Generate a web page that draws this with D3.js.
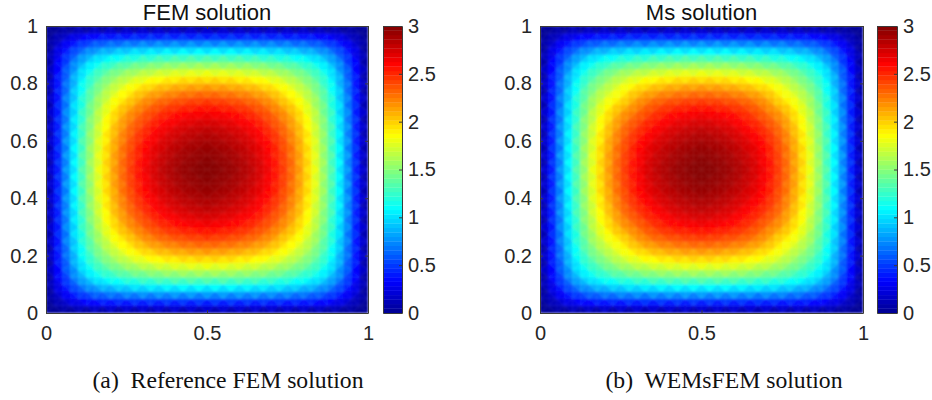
<!DOCTYPE html>
<html>
<head>
<meta charset="utf-8">
<script src="https://cdn.jsdelivr.net/npm/d3@7"></script>
<style>
body { margin: 0; background: #fff; }
svg { display: block; }
.tick text { font-family: "Liberation Sans", sans-serif; font-size: 20px; fill: #262626; }
.title { font-family: "Liberation Sans", sans-serif; font-size: 22px; fill: #111; text-anchor: middle; }
.caption { font-family: "Liberation Serif", serif; font-size: 23.7px; fill: #111; text-anchor: middle; white-space: pre; }
</style>
</head>
<body>
<svg id="vis" width="932" height="400"></svg>
<script>
var X_TICKS = [0, 0.5, 1];
var Y_TICKS = [0, 0.2, 0.4, 0.6, 0.8, 1];
var BAR_TICKS = [0, 0.5, 1, 1.5, 2, 2.5, 3];
var TITLES = ["FEM solution", "Ms solution"];
var CAPTIONS = ["(a)  Reference FEM solution", "(b)  WEMsFEM solution"];

// mesh node values, one quadrant (the field looks symmetric).
// row i holds nodes j = i..20 on a 40x40 mesh, so the first entry is the diagonal
var femField = [
	[0,0,0,0,0,0,0,0,0,0,0,0,0,0,0,0,0,0,0,0,0],
	[.06,.11,.16,.20,.23,.25,.27,.28,.28,.29,.29,.30,.30,.30,.30,.30,.30,.30,.30,.30],
	[.20,.29,.37,.43,.47,.51,.53,.54,.56,.57,.58,.58,.59,.60,.60,.60,.60,.60,.60],
	[.42,.53,.63,.69,.74,.77,.80,.83,.85,.86,.87,.88,.89,.89,.90,.90,.90,.90],
	[.68,.80,.89,.95,1.00,1.04,1.07,1.10,1.12,1.13,1.15,1.16,1.17,1.18,1.18,1.18,1.18],
	[.94,1.05,1.13,1.19,1.24,1.29,1.32,1.35,1.37,1.40,1.41,1.42,1.43,1.44,1.44,1.44],
	[1.17,1.27,1.35,1.41,1.47,1.51,1.55,1.58,1.61,1.63,1.64,1.66,1.66,1.67,1.67],
	[1.39,1.48,1.56,1.62,1.68,1.73,1.76,1.80,1.82,1.84,1.86,1.87,1.88,1.88],
	[1.58,1.68,1.75,1.82,1.88,1.92,1.97,2.00,2.02,2.04,2.06,2.06,2.07],
	[1.78,1.87,1.94,2.01,2.06,2.11,2.14,2.17,2.19,2.21,2.22,2.23],
	[1.93,2.04,2.13,2.19,2.24,2.28,2.31,2.34,2.36,2.37,2.38],
	[2.13,2.22,2.29,2.35,2.39,2.43,2.45,2.47,2.49,2.50],
	[2.31,2.38,2.44,2.49,2.53,2.56,2.58,2.60,2.61],
	[2.45,2.52,2.57,2.61,2.64,2.67,2.69,2.70],
	[2.59,2.64,2.68,2.72,2.74,2.76,2.78],
	[2.69,2.74,2.77,2.80,2.82,2.84],
	[2.78,2.82,2.85,2.87,2.89],
	[2.86,2.89,2.91,2.93],
	[2.92,2.94,2.96],
	[2.96,2.98],
	[3.00]
];

var msField = [
	[0,0,0,0,0,0,0,0,0,0,0,0,0,0,0,0,0,0,0,0,0],
	[.06,.11,.16,.20,.23,.25,.27,.28,.28,.29,.29,.30,.30,.30,.30,.30,.30,.30,.30,.30],
	[.20,.29,.37,.43,.47,.51,.53,.54,.56,.57,.58,.58,.59,.60,.60,.60,.60,.60,.60],
	[.42,.53,.63,.69,.74,.77,.80,.83,.85,.86,.87,.88,.89,.89,.90,.90,.90,.90],
	[.68,.80,.89,.95,1.00,1.04,1.07,1.10,1.12,1.13,1.15,1.16,1.17,1.18,1.18,1.18,1.18],
	[.94,1.05,1.13,1.19,1.24,1.29,1.32,1.35,1.37,1.40,1.41,1.42,1.43,1.44,1.44,1.44],
	[1.16,1.26,1.34,1.41,1.47,1.51,1.55,1.58,1.61,1.63,1.64,1.66,1.66,1.67,1.67],
	[1.37,1.47,1.55,1.62,1.68,1.73,1.76,1.80,1.82,1.84,1.86,1.87,1.88,1.88],
	[1.55,1.66,1.74,1.81,1.87,1.92,1.96,2.00,2.02,2.04,2.06,2.06,2.07],
	[1.75,1.85,1.93,2.00,2.05,2.10,2.14,2.17,2.19,2.21,2.22,2.23],
	[1.90,2.02,2.12,2.18,2.24,2.28,2.31,2.34,2.36,2.37,2.38],
	[2.10,2.20,2.28,2.34,2.39,2.43,2.45,2.47,2.49,2.50],
	[2.28,2.36,2.43,2.48,2.53,2.56,2.58,2.60,2.61],
	[2.43,2.51,2.56,2.61,2.64,2.67,2.69,2.70],
	[2.57,2.63,2.68,2.72,2.74,2.76,2.78],
	[2.68,2.73,2.77,2.80,2.82,2.84],
	[2.78,2.82,2.85,2.87,2.89],
	[2.86,2.89,2.91,2.93],
	[2.92,2.94,2.96],
	[2.96,2.98],
	[3.00]
];

var MESH = 40;
var PLOT_TOP = 26, PLOT_BOTTOM = 313;
var BOX_COLOR = "#3a3a3a";

var vis = d3.select("#vis");

// MATLAB jet
var jet = d3.scaleLinear()
	.domain([0, 0.33, 1.09, 1.86, 2.61, 3])
	.range(["#000090", "#0000ff", "#00ffff", "#ffff00", "#ff0000", "#800000"])
	.clamp(true);

var yScale = d3.scaleLinear().domain([0, 1]).range([PLOT_BOTTOM, PLOT_TOP]);
var barScale = d3.scaleLinear().domain([0, 3]).range([PLOT_BOTTOM, PLOT_TOP]);

var defs = vis.append("defs");
var blur = defs.append("filter").attr("id", "soften")
	.attr("x", "-2%").attr("y", "-2%").attr("width", "104%").attr("height", "104%");
blur.append("feGaussianBlur").attr("stdDeviation", 0.8).attr("edgeMode", "duplicate");

function nodeValue(field, i, j)
{
	var a = Math.min(i, MESH - i), b = Math.min(j, MESH - j);
	var lo = Math.min(a, b), hi = Math.max(a, b);
	return field[lo][hi - lo];
}

// flat shaded triangles, the diagonal of the mesh squares alternates like a checkerboard
function meshTriangles(field)
{
	var tris = [];
	for (var i = 0; i < MESH; i++) {
		for (var j = 0; j < MESH; j++) {
			var a = [i, j], b = [i + 1, j], c = [i + 1, j + 1], d = [i, j + 1];
			var pair = (i + j) % 2 == 0 ? [[a, b, c], [a, c, d]] : [[a, b, d], [b, c, d]];
			pair.forEach(function(pts) {
				tris.push({
					pts: pts,
					value: d3.mean(pts, function(p) { return nodeValue(field, p[0], p[1]); })
				});
			});
		}
	}
	return tris;
}

function drawPanel(id, field, title, caption, left, right, barLeft, barRight, captionX)
{
	var xScale = d3.scaleLinear().domain([0, 1]).range([left, right]);
	var w = right - left, h = PLOT_BOTTOM - PLOT_TOP;

	defs.append("clipPath").attr("id", "clip" + id)
		.append("rect").attr("x", left).attr("y", PLOT_TOP).attr("width", w).attr("height", h);

	var meshGroup = vis.append("g").attr("clip-path", "url(#clip" + id + ")")
		.append("g").attr("filter", "url(#soften)");

	meshGroup.selectAll("polygon")
		.data(meshTriangles(field))
		.enter().append("polygon")
		.attr("points", function(d) {
			return d.pts.map(function(p) {
				return xScale(p[0] / MESH) + "," + yScale(p[1] / MESH);
			}).join(" ");
		})
		.attr("fill", function(d) { return jet(d.value); })
		.attr("stroke", function(d) { return jet(d.value); })
		.attr("stroke-width", 0.4);

	// axes, the mirrored ones only carry ticks
	styleAxis(vis.append("g").attr("transform", "translate(0," + PLOT_BOTTOM + ")")
		.call(d3.axisBottom(xScale).tickValues(X_TICKS).tickFormat(String).tickSizeInner(-3).tickSizeOuter(0).tickPadding(13)));
	styleAxis(vis.append("g").attr("transform", "translate(0," + PLOT_TOP + ")")
		.call(d3.axisTop(xScale).tickValues(X_TICKS).tickFormat("").tickSizeInner(-3).tickSizeOuter(0)));
	styleAxis(vis.append("g").attr("transform", "translate(" + left + ",0)")
		.call(d3.axisLeft(yScale).tickValues(Y_TICKS).tickFormat(String).tickSizeInner(-3).tickSizeOuter(0).tickPadding(8)));
	styleAxis(vis.append("g").attr("transform", "translate(" + right + ",0)")
		.call(d3.axisRight(yScale).tickValues(Y_TICKS).tickFormat("").tickSizeInner(-3).tickSizeOuter(0)));

	// colorbar, 64 levels like the colormap
	var levels = d3.range(64).map(function(k) { return (k + 0.5) * 3 / 64; });
	var bar = vis.append("g");
	bar.selectAll("rect").data(levels).enter().append("rect")
		.attr("x", barLeft).attr("width", barRight - barLeft)
		.attr("y", function(d) { return barScale(d + 1.5 / 64); })
		.attr("height", function(d) { return barScale(d - 1.5 / 64) - barScale(d + 1.5 / 64) + 0.3; })
		.attr("fill", function(d) { return jet(d); });

	styleAxis(vis.append("g").attr("transform", "translate(" + barRight + ",0)")
		.call(d3.axisRight(barScale).tickValues(BAR_TICKS).tickFormat(String).tickSizeInner(-3).tickSizeOuter(0).tickPadding(6)));
	styleAxis(vis.append("g").attr("transform", "translate(" + barLeft + ",0)")
		.call(d3.axisLeft(barScale).tickValues(BAR_TICKS).tickFormat("").tickSizeInner(0).tickSizeOuter(0)));
	vis.append("g").attr("transform", "translate(0," + PLOT_TOP + ")")
		.call(d3.axisTop(d3.scaleLinear().range([barLeft, barRight])).tickValues([]).tickSizeOuter(0));
	vis.append("g").attr("transform", "translate(0," + PLOT_BOTTOM + ")")
		.call(d3.axisBottom(d3.scaleLinear().range([barLeft, barRight])).tickValues([]).tickSizeOuter(0));

	vis.selectAll("g .domain").attr("stroke", BOX_COLOR);

	vis.append("text").attr("class", "title")
		.attr("x", (left + right) / 2).attr("y", 19.5).text(title);
	vis.append("text").attr("class", "caption")
		.attr("x", captionX).attr("y", 387.5).text(caption);
}

function styleAxis(axis)
{
	axis.selectAll(".tick line").attr("stroke", BOX_COLOR);
	axis.select(".domain").attr("stroke", BOX_COLOR);
	return axis;
}

drawPanel("a", femField, TITLES[0], CAPTIONS[0], 46, 368, 383, 402, 228);
drawPanel("b", msField, TITLES[1], CAPTIONS[1], 540, 863, 877, 897, 724);
</script>
</body>
</html>
